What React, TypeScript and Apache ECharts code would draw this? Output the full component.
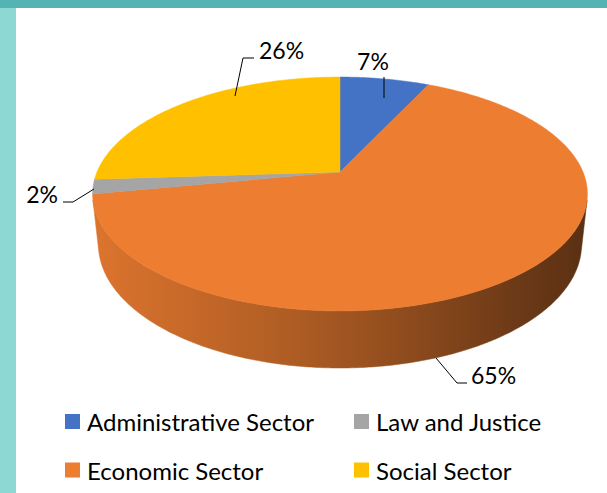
import React, { useEffect, useRef } from "react";
import * as echarts from "echarts";

// ---- data ----
const CATEGORIES = ["Administrative Sector", "Economic Sector", "Law and Justice", "Social Sector"];
const VALUES = [7, 65, 2, 26];
const COLORS = ["#4472C4", "#ED7D31", "#A5A5A5", "#FFC000"];
const LEGEND_COLUMNS = [
  ["Administrative Sector", "Economic Sector"],
  ["Law and Justice", "Social Sector"],
];

// ---- layout (3D pie projection) ----
const CX = 340;
const CY = 172;
const R = 243;
const SIN_A = 0.4642;
const COS_A = Math.sqrt(1 - SIN_A * SIN_A);
const F = 1145;
const H = 57.5;
const FONT = "Lato, 'Open Sans', sans-serif";

// label layout: leader polyline (from text side to slice) and text anchor
const LABEL_LAYOUT = [
  { line: [[384, 77], [384, 98]], text: [373, 61], align: "center" },
  { line: [[467, 383], [457, 383], [436, 358]], text: [471, 375], align: "left" },
  { line: [[63, 202], [73, 202], [94, 189]], text: [58, 194], align: "right" },
  { line: [[254, 58], [243, 58], [235, 96]], text: [259, 50], align: "left" },
];

function project(phi: number, r: number, y: number): number[] {
  const X = r * Math.cos(phi);
  const Z = r * Math.sin(phi);
  const ys = Z * SIN_A - y * COS_A;
  const d = Z * COS_A + y * SIN_A;
  const s = F / (F - d);
  return [CX + X * s, CY + ys * s];
}

function arc(a: number, b: number, y: number): number[][] {
  const n = Math.max(2, Math.ceil(Math.abs(b - a) / 0.01));
  const pts: number[][] = [];
  for (let k = 0; k <= n; k++) {
    pts.push(project(a + ((b - a) * k) / n, R, y));
  }
  return pts;
}

function shade(hex: string, f: number): string {
  const n = parseInt(hex.slice(1), 16);
  const r = Math.round(((n >> 16) & 255) * f);
  const g = Math.round(((n >> 8) & 255) * f);
  const b = Math.round((n & 255) * f);
  return `rgb(${r},${g},${b})`;
}

export default function App() {
  const ref = useRef<HTMLDivElement>(null);

  useEffect(() => {
    if (!ref.current) return;
    const chart = echarts.init(ref.current, undefined, { renderer: "svg" });
    const total = VALUES.reduce((s, v) => s + v, 0);
    const starts: number[] = [];
    let acc = 0;
    VALUES.forEach((v) => {
      starts.push(acc);
      acc += v;
    });
    const phiS = Math.asin(R / (F * COS_A));

    const legends: any[] = [];
    LEGEND_COLUMNS.forEach((col, ci) => {
      col.forEach((name, ri) => {
        legends.push({
          data: [name],
          left: [65, 354][ci],
          top: [421.5, 470][ri] - 12,
          orient: "horizontal",
          padding: 0,
          itemWidth: 15,
          itemHeight: 15,
          icon: "rect",
          selectedMode: false,
          textStyle: { fontFamily: FONT, fontSize: 24, lineHeight: 24, color: "#000", padding: [0, 0, 0, 2] },
        });
      });
    });

    chart.setOption({
      animation: false,
      backgroundColor: "#ffffff",
      color: COLORS,
      legend: legends,
      graphic: [
        { type: "rect", left: 0, top: 0, shape: { width: 16, height: 493 }, style: { fill: "#8ed8d4" }, z: 10 },
        { type: "rect", left: 0, top: 0, shape: { width: 607, height: 8 }, style: { fill: "#54b4b4" }, z: 11 },
      ],
      series: [
        {
          type: "pie",
          name: "legend",
          radius: [0, 0],
          center: [-100, -100],
          silent: true,
          label: { show: false },
          labelLine: { show: false },
          data: CATEGORIES.map((c, i) => ({ name: c, value: VALUES[i], itemStyle: { color: COLORS[i] } })),
        },
        {
          type: "custom",
          coordinateSystem: "none",
          silent: true,
          data: VALUES.map((v, i) => ({ name: CATEGORIES[i], value: v })),
          renderItem: (params: any) => {
            const i = params.dataIndex;
            const a = -Math.PI / 2 + (2 * Math.PI * starts[i]) / total;
            const b = a + (2 * Math.PI * VALUES[i]) / total;
            const color = COLORS[i];
            const children: any[] = [];

            // side wall
            const lo = Math.max(a, phiS);
            const hi = Math.min(b, Math.PI - phiS);
            if (hi > lo) {
              const topPts = arc(lo, hi, 0);
              const botPts = arc(hi, lo, -H);
              const grad = new echarts.graphic.LinearGradient(
                CX - R * 1.02, 0, CX + R * 1.02, 0,
                [
                  { offset: 0, color: shade(color, 0.93) },
                  { offset: 0.4, color: shade(color, 0.74) },
                  { offset: 0.6, color: shade(color, 0.62) },
                  { offset: 0.85, color: shade(color, 0.46) },
                  { offset: 1, color: shade(color, 0.38) },
                ],
                true
              );
              children.push({
                type: "polygon",
                z2: 1,
                shape: { points: topPts.concat(botPts) },
                style: { fill: grad, stroke: grad, lineWidth: 0.5 },
              });
            }

            // top face
            const topFace = [project(0, 0, 0)].concat(arc(a, b, 0));
            children.push({
              type: "polygon",
              z2: 2,
              shape: { points: topFace },
              style: { fill: color, stroke: color, lineWidth: 0.5 },
            });

            // label
            const lay = LABEL_LAYOUT[i];
            children.push({
              type: "polyline",
              z2: 3,
              shape: { points: lay.line },
              style: { stroke: "#000", lineWidth: 1, fill: null },
            });
            children.push({
              type: "text",
              z2: 3,
              x: lay.text[0],
              y: lay.text[1],
              style: {
                text: Math.round((VALUES[i] / total) * 100) + "%",
                fontFamily: FONT,
                fontSize: 23,
                fill: "#000",
                align: lay.align,
                verticalAlign: "middle",
              },
            });
            return { type: "group", children };
          },
        },
      ],
    });
    return () => chart.dispose();
  }, []);

  return (
    <div style={{ position: "fixed", left: 0, top: 0, width: 607, height: 493, background: "#fff" }}>
      <div ref={ref} style={{ width: 607, height: 493 }} />
    </div>
  );
}
